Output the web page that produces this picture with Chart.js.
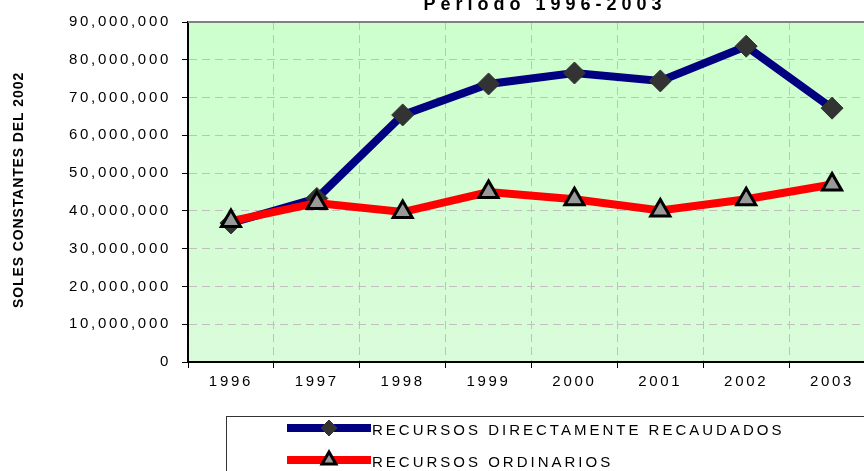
<!DOCTYPE html>
<html>
<head>
<meta charset="utf-8">
<script src="https://cdn.jsdelivr.net/npm/chart.js@4/dist/chart.umd.min.js"></script>
<style>
  body { margin: 0; overflow: hidden; background: #fff; }
  #wrap { width: 880px; height: 471px; }
</style>
</head>
<body>
<div id="wrap"><canvas id="idCanvas" width="880" height="471"></canvas></div>
<script>
// datos
const anios = ['1996', '1997', '1998', '1999', '2000', '2001', '2002', '2003'];
const directamenteRecaudados = [36800000, 43300000, 65400000, 73600000, 76500000, 74400000, 83600000, 67200000];
const ordinarios = [37300000, 42100000, 39700000, 45000000, 43100000, 40100000, 43100000, 47000000];
const nombres = ['RECURSOS DIRECTAMENTE RECAUDADOS', 'RECURSOS ORDINARIOS'];
const titulo = 'Período 1996-2003';
const tituloEjeY = 'SOLES CONSTANTES DEL 2002';

function espaciado(chart) {
    chart.ctx.letterSpacing = '2.7px';
}

const extras = {
    id: 'extras',
    beforeUpdate(chart) { espaciado(chart); },
    beforeDraw(chart) {
        espaciado(chart);
        const ctx = chart.ctx;
        const a = chart.chartArea;
        ctx.save();
        let g = ctx.createLinearGradient(0, a.top, 0, a.bottom);
        g.addColorStop(0, '#ccffcc');
        g.addColorStop(1, '#dafbda');
        ctx.fillStyle = g;
        ctx.fillRect(a.left, a.top, a.right - a.left, a.bottom - a.top);
        ctx.restore();
    },
    beforeDatasetsDraw(chart) {
        const ctx = chart.ctx;
        const a = chart.chartArea;
        ctx.save();
        ctx.strokeStyle = '#808080';
        ctx.lineWidth = 2;
        ctx.beginPath();
        ctx.moveTo(a.left, a.top);
        ctx.lineTo(a.right, a.top);
        ctx.stroke();
        ctx.restore();
    },
    afterDraw(chart) {
        const ctx = chart.ctx;
        ctx.save();
        ctx.fillStyle = '#000';
        // titulo
        ctx.font = 'bold 18px Arial';
        ctx.letterSpacing = '5px';
        ctx.textAlign = 'center';
        ctx.textBaseline = 'alphabetic';
        ctx.fillText(titulo, 545, 10);
        // titulo eje y
        ctx.save();
        ctx.translate(23, 190);
        ctx.rotate(-Math.PI / 2);
        ctx.font = 'bold 14px Arial';
        ctx.letterSpacing = '0.9px';
        ctx.fillText(tituloEjeY, 0, 0);
        ctx.restore();
        // leyenda
        ctx.strokeStyle = '#333';
        ctx.lineWidth = 1;
        ctx.strokeRect(226.5, 416.5, 700, 100);
        ctx.font = '15px Arial';
        ctx.letterSpacing = '3px';
        ctx.textAlign = 'left';
        ctx.textBaseline = 'middle';
        const ds = chart.data.datasets;
        const ys = [428, 460];
        for (let i = 0; i < ds.length; i++) {
            const y = ys[i];
            ctx.strokeStyle = ds[i].borderColor;
            ctx.lineWidth = 8;
            ctx.beginPath();
            ctx.moveTo(287, y);
            ctx.lineTo(371, y);
            ctx.stroke();
            ctx.fillStyle = ds[i].pointBackgroundColor;
            ctx.strokeStyle = ds[i].pointBorderColor;
            ctx.lineWidth = ds[i].pointBorderWidth;
            Chart.helpers.drawPoint(ctx, {
                pointStyle: ds[i].pointStyle, rotation: 0, radius: 8,
                borderWidth: ds[i].pointBorderWidth
            }, 329, y);
            ctx.fillStyle = '#000';
            ctx.fillText(ds[i].label, 372, y + 3);
        }
        ctx.restore();
    }
};

let ctx = document.getElementById('idCanvas').getContext('2d');
let myChart = new Chart(ctx, {
    type: 'line',
    data: {
        labels: anios,
        datasets: [{
            label: nombres[0],
            data: directamenteRecaudados,
            borderColor: '#000080',
            borderWidth: 8,
            pointStyle: 'rectRot',
            pointRadius: 11,
            pointBackgroundColor: '#333333',
            pointBorderColor: '#333333',
            pointBorderWidth: 1,
            tension: 0,
            order: 2
        }, {
            label: nombres[1],
            data: ordinarios,
            borderColor: '#ff0000',
            borderWidth: 8,
            pointStyle: 'triangle',
            pointRadius: 11,
            pointBackgroundColor: '#999999',
            pointBorderColor: '#000000',
            pointBorderWidth: 3,
            tension: 0,
            order: 1
        }]
    },
    options: {
        responsive: false,
        animation: false,
        devicePixelRatio: 1,
        layout: { autoPadding: false, padding: { left: 0, top: 22, right: 5, bottom: 0 } },
        plugins: { legend: { display: false }, tooltip: { enabled: false } },
        scales: {
            x: {
                offset: true,
                afterFit(scale) {
                    scale.height = 109;
                    scale.paddingLeft = 0;
                    scale.paddingRight = 0;
                },
                grid: {
                    offset: true,
                    color: '#c0c0c0',
                    tickColor: '#000',
                    tickLength: 6,
                    lineWidth: 1
                },
                border: { display: true, color: '#000', width: 2, dash: [8, 5] },
                ticks: {
                    color: '#000',
                    font: { family: 'Arial', size: 15 },
                    padding: 5,
                    maxRotation: 0
                }
            },
            y: {
                min: 0,
                max: 90000000,
                afterFit(scale) { scale.width = 188; },
                grid: {
                    color: '#c0c0c0',
                    tickColor: '#000',
                    tickLength: 6,
                    lineWidth: 1
                },
                border: { display: true, color: '#000', width: 2, dash: [8, 5] },
                ticks: {
                    stepSize: 10000000,
                    color: '#000',
                    font: { family: 'Arial', size: 15 },
                    padding: 11,
                    callback: (v) => v.toLocaleString('en-US')
                }
            }
        }
    },
    plugins: [extras]
});
</script>
</body>
</html>
